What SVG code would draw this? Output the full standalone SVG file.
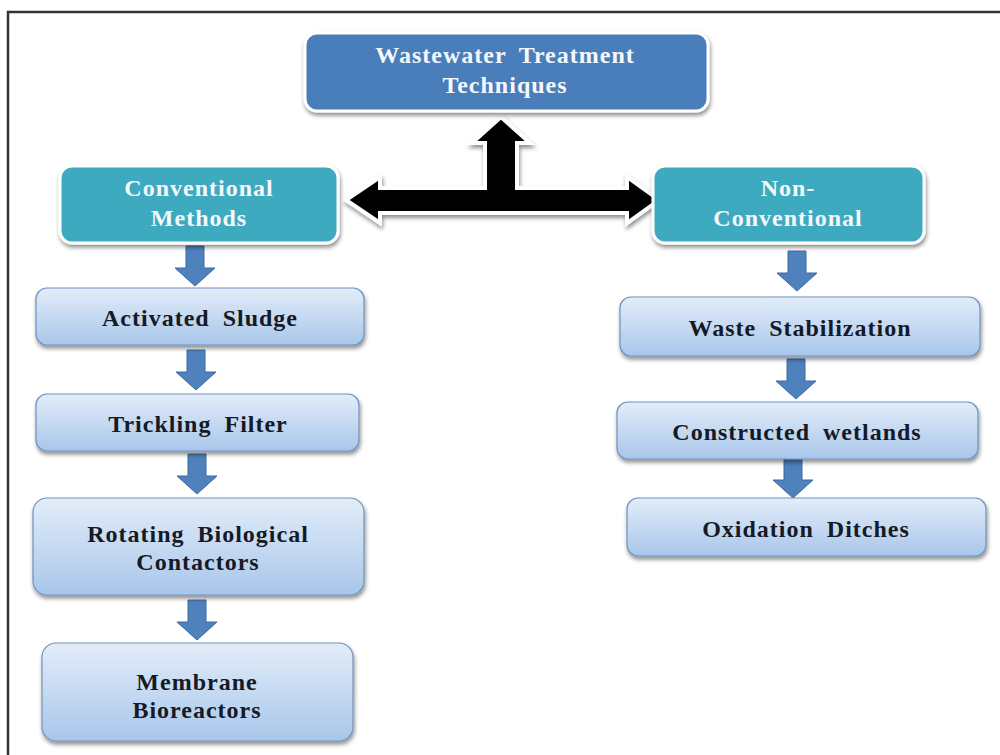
<svg xmlns="http://www.w3.org/2000/svg" width="1000" height="755" viewBox="0 0 1000 755">
<defs>
<linearGradient id="lb" x1="0" y1="0" x2="0" y2="1">
<stop offset="0" stop-color="#e3edf9"/>
<stop offset="1" stop-color="#a8c6ea"/>
</linearGradient>
<filter id="sh" x="-10%" y="-20%" width="120%" height="150%">
<feGaussianBlur in="SourceAlpha" stdDeviation="2"/>
<feOffset dx="1" dy="3" result="b"/>
<feComponentTransfer><feFuncA type="linear" slope="0.45"/></feComponentTransfer>
<feMerge><feMergeNode/><feMergeNode in="SourceGraphic"/></feMerge>
</filter>
<path id="darr" d="M-9,0 H9 V22 H20 L0,40 L-20,22 H-9 Z"/>
</defs>
<style>
.frame{fill:none;stroke:#333;stroke-width:2.5}
.dark{fill:#4a7ebb;stroke:#fff;stroke-width:3}
.teal{fill:#3eaabf;stroke:#fff;stroke-width:3}
.light{fill:url(#lb);stroke:#6f93bf;stroke-width:1.2}
.w{fill:#f4f8fc}
.k{fill:#151a26}
.ba{fill:#4f81bd;stroke:#3b6aa3;stroke-width:1}
.bk{fill:#000;stroke:#fff;stroke-width:4;stroke-linejoin:miter}
</style>
<polyline class="frame" points="8,755 8,12 1000,12"/>

<g id="connectors">
<path class="bk" filter="url(#sh)" d="M501,117 L530,143 H517 V188 H627 V177 L659,200 L627,223 V213 H380 V223 L346,200 L380,177 V188 H485 V143 H472 Z"/>
<use href="#darr" class="ba" x="195" y="246"/>
<use href="#darr" class="ba" x="196" y="350"/>
<use href="#darr" class="ba" x="197" y="454"/>
<use href="#darr" class="ba" x="197" y="600"/>
<use href="#darr" class="ba" x="797" y="251"/>
<use href="#darr" class="ba" x="796" y="359"/>
<use href="#darr" class="ba" x="793" y="458"/>
</g>

<g font-family="Liberation Serif, Times New Roman, serif" font-weight="bold" font-size="24" text-anchor="middle" letter-spacing="1" word-spacing="6">
<g id="n-top">
<rect class="dark" filter="url(#sh)" x="305" y="33" width="403" height="78" rx="12"/>
<text class="w" x="505" y="63">Wastewater Treatment</text>
<text class="w" x="505" y="93">Techniques</text>
</g>
<g id="n-conv">
<rect class="teal" filter="url(#sh)" x="60" y="166" width="278" height="77" rx="12"/>
<text class="w" x="199" y="196">Conventional</text>
<text class="w" x="199" y="226">Methods</text>
</g>
<g id="n-nonconv">
<rect class="teal" filter="url(#sh)" x="653" y="166" width="271" height="77" rx="12"/>
<text class="w" x="788" y="196">Non-</text>
<text class="w" x="788" y="226">Conventional</text>
</g>
<g id="n-as">
<rect class="light" filter="url(#sh)" x="36" y="288" width="328" height="57" rx="11"/>
<text class="k" x="200" y="326">Activated Sludge</text>
</g>
<g id="n-tf">
<rect class="light" filter="url(#sh)" x="36" y="394" width="323" height="57" rx="11"/>
<text class="k" x="198" y="432">Trickling Filter</text>
</g>
<g id="n-rbc">
<rect class="light" filter="url(#sh)" x="33" y="498" width="331" height="97" rx="14"/>
<text class="k" x="198" y="542">Rotating Biological</text>
<text class="k" x="198" y="570">Contactors</text>
</g>
<g id="n-mbr">
<rect class="light" filter="url(#sh)" x="42" y="643" width="311" height="98" rx="14"/>
<text class="k" x="197" y="690">Membrane</text>
<text class="k" x="197" y="718">Bioreactors</text>
</g>
<g id="n-ws">
<rect class="light" filter="url(#sh)" x="620" y="297" width="360" height="59" rx="11"/>
<text class="k" x="800" y="336">Waste Stabilization</text>
</g>
<g id="n-cw">
<rect class="light" filter="url(#sh)" x="617" y="402" width="361" height="57" rx="11"/>
<text class="k" x="797" y="440">Constructed wetlands</text>
</g>
<g id="n-od">
<rect class="light" filter="url(#sh)" x="627" y="498" width="359" height="58" rx="11"/>
<text class="k" x="806" y="537">Oxidation Ditches</text>
</g>
</g>
</svg>
